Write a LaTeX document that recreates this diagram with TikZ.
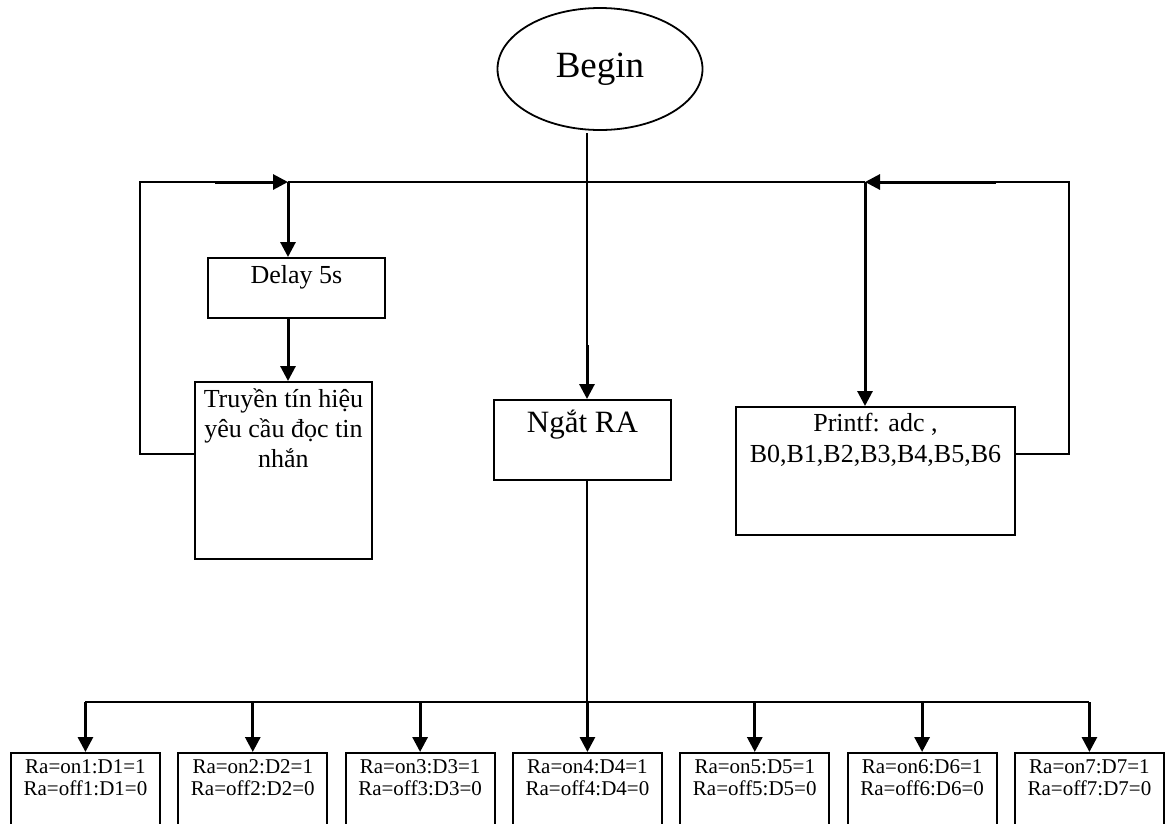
\documentclass[tikz,border=0pt]{standalone}
\usepackage{fontspec}
\setmainfont{Liberation Serif}
\usetikzlibrary{arrows.meta,shapes.geometric}

% box text: width, height, first baseline, font size, line skip, text
\newcommand{\boxbody}[6]{\parbox[c][#2][t]{#1}{\centering\fontsize{#4}{#5}\selectfont\rule{0pt}{#3}#6}}

\tikzset{
    >={Triangle[length=15pt,width=15pt]},
    box/.style={draw,line width=1.9pt,inner sep=0pt,anchor=north west},
    wire/.style={line width=1.8pt},
    flow/.style={line width=3pt,->},
}

\begin{document}
\begin{tikzpicture}[x=1pt,y=-1pt]
    \useasboundingbox (0,0) rectangle (1165,823);
    \clip (0,0) rectangle (1165,823);

    % Begin
    \node[draw,ellipse,line width=1.8pt,minimum width=205pt,minimum height=122pt,inner sep=0pt,
          font=\fontsize{37}{40}\selectfont] (begin) at (600,69) {Begin};

    % Boxes
    \node[box] (delay) at (207,257) {\boxbody{177pt}{60pt}{26pt}{26}{30}{Delay 5s}};
    \node[box] (trans) at (194,381) {\boxbody{177pt}{177pt}{26pt}{26}{30}{Truyền tín hiệu\\yêu cầu đọc tin\\nhắn}};
    \node[box] (ngat) at (493,399) {\boxbody{177pt}{80pt}{33pt}{31}{35}{Ngắt RA}};
    \node[box] (printf) at (735,406) {\boxbody{279pt}{128pt}{25pt}{26}{31}{Printf: adc ,\\B0,B1,B2,B3,B4,B5,B6}};
    \foreach \i in {1,...,7}
        \node[box] (ra\i) at ({10+167.33*(\i-1)},752) {\boxbody{149pt}{80pt}{20.5pt}{21}{22}{Ra=on\i:D\i=1\\Ra=off\i:D\i=0}};

    % Junctions
    \coordinate (mtop) at (587,133);
    \coordinate (mmid) at (587,345);
    \coordinate (lj) at (288,182);
    \coordinate (rj) at (865,182);
    \coordinate (lback) at (140,454);
    \coordinate (rback) at (1069,454);
    \coordinate (bus) at (587,702);

    % Main line
    \draw[wire] (mtop) -- (mmid);
    \draw[flow] (mmid) -- (mmid |- ngat.north);
    \draw[wire] (lj) -- (rj);

    % Left loop
    \draw[wire] (trans.west |- lback) -- (lback) -- (lback |- lj) -- (215,182);
    \draw[flow] (215,182) -- (lj);
    \draw[flow] (lj) -- (lj |- delay.north);
    \draw[flow] (delay.south -| lj) -- (trans.north -| lj);

    % Right loop
    \draw[wire] (printf.east |- rback) -- (rback) -- (rback |- rj) -- (996,182);
    \draw[flow] (996,182) -- (rj);
    \draw[flow] (rj) -- (rj |- printf.north);

    % Outputs
    \draw[wire] (ngat.south -| bus) -- (bus);
    \draw[wire] (ra1.north |- bus) -- (ra7.north |- bus);
    \foreach \i in {1,...,7}
        \draw[flow] (ra\i.north |- bus) -- (ra\i.north);
\end{tikzpicture}
\end{document}
